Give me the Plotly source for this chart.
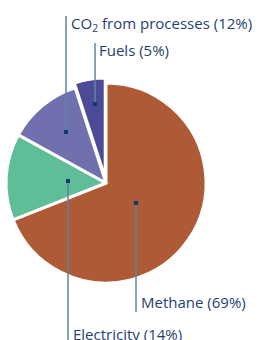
import plotly.graph_objects as go

categories = ["Methane", "Electricity", "CO<sub>2</sub> from processes", "Fuels"]
values = [69, 14, 12, 5]
colors = ["#AE5A37", "#5FBD98", "#7170AF", "#4B4B98"]
pulls = [0, 0, 0.0, 0.05]

W, H = 269, 340
TEXT = "#1F4272"
LINE = "#5F82A8"

fig = go.Figure(go.Pie(
    labels=categories, values=values, sort=False, direction="clockwise",
    rotation=0, pull=pulls, textinfo="none", hoverinfo="label+percent",
    marker=dict(colors=colors, line=dict(color="white", width=3)),
    domain=dict(x=[1 / W, 211 / W], y=[52 / H, 262 / H]),
    showlegend=False,
))

def px(x):
    return x / W

def py(y):
    return 1 - y / H

# leader lines: (x, y_top, y_bottom, marker_y)
leaders = [
    (66, 16, 132, 132),
    (95, 43, 104, 104),
    (68, 181, 340, 181),
    (136, 203, 312, 203),
]
shapes = []
for x, y0, y1, ym in leaders:
    shapes.append(dict(type="line", xref="paper", yref="paper",
                       x0=px(x), x1=px(x), y0=py(y0), y1=py(y1),
                       line=dict(color=LINE, width=1.5)))
    shapes.append(dict(type="rect", xref="paper", yref="paper",
                       x0=px(x - 2), x1=px(x + 2), y0=py(ym - 2), y1=py(ym + 2),
                       fillcolor="#12386A", line=dict(width=0)))

labels_text = [
    ("CO<sub>2</sub> from processes (12%)", 69, 24),
    ("Fuels (5%)", 97, 50),
    ("Methane (69%)", 139, 302),
    ("Electricity (14%)", 71, 334),
]
annotations = [
    dict(text=t, x=px(x), y=py(y), xref="paper", yref="paper",
         xanchor="left", yanchor="middle", showarrow=False,
         font=dict(family="Open Sans", size=15, color=TEXT))
    for t, x, y in labels_text
]

fig.update_layout(
    width=W, height=H, margin=dict(l=0, r=0, t=0, b=0),
    paper_bgcolor="white", plot_bgcolor="white",
    shapes=shapes, annotations=annotations,
)
fig.write_html("out.html", config={"displayModeBar": False},
               post_script="document.body.style.margin='0';document.body.style.overflow='hidden';")
